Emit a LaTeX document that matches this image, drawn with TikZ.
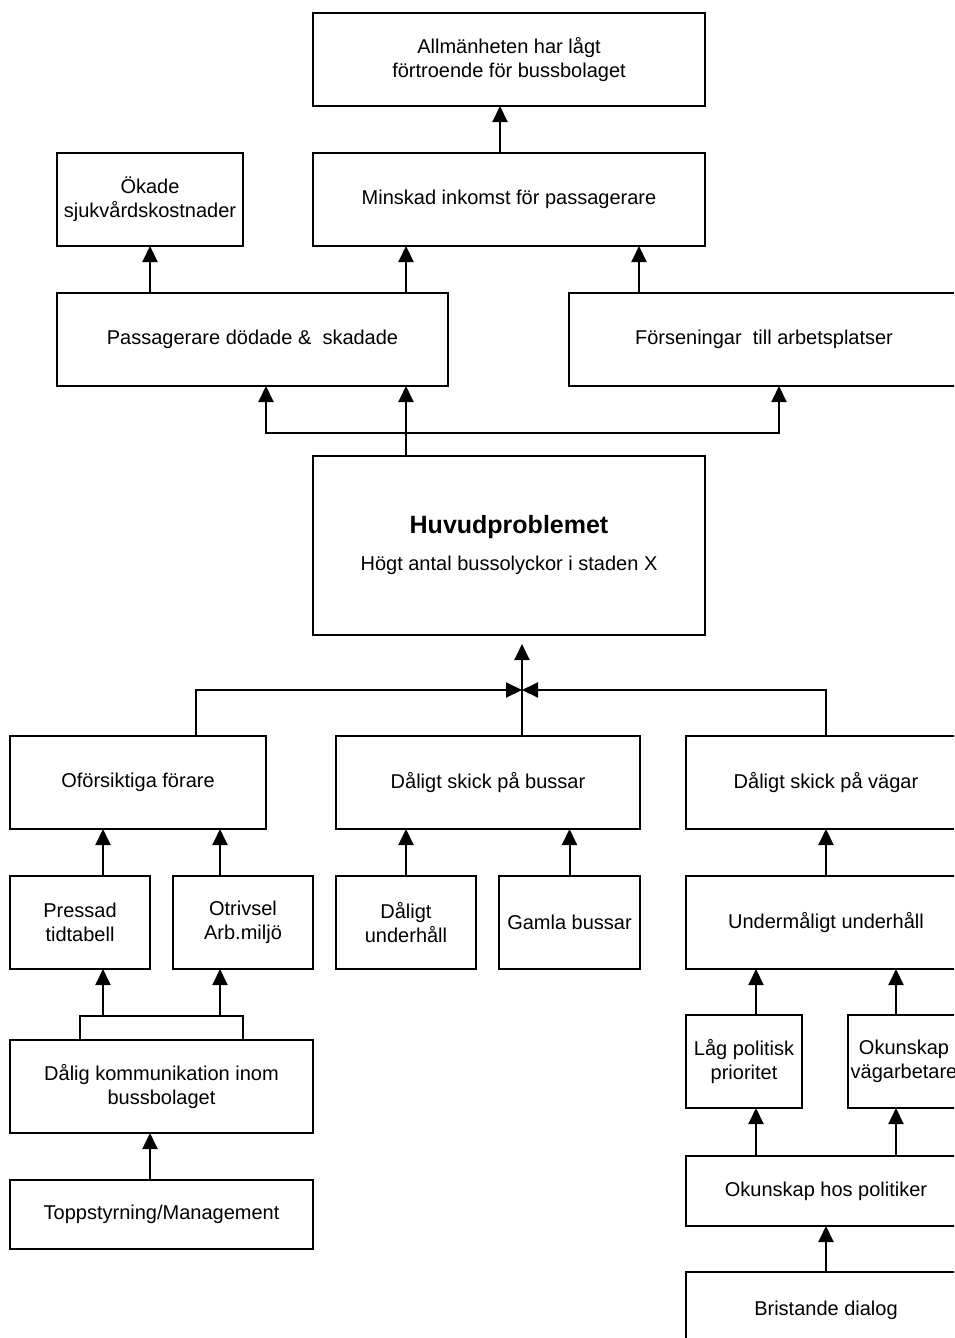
\documentclass[tikz,border=0pt]{standalone}
\usepackage{fontspec}
\setmainfont{Liberation Sans}
\usetikzlibrary{positioning,arrows.meta}

\begin{document}
\begin{tikzpicture}[x=1pt, y=1pt,
  box/.style={draw, line width=2pt, align=center, inner sep=2pt, outer sep=0pt,
    font=\fontsize{20}{24}\selectfont},
  pil/.style={line width=2pt, -{Triangle[length=16pt,width=15pt]}},
  dubbelpil/.style={line width=2pt, {Triangle[length=16pt,width=15pt]}-{Triangle[length=16pt,width=15pt]}},
  ledning/.style={line width=2pt}]
\useasboundingbox (0,0) rectangle (954,-1338);
\clip (0,0) rectangle (954,-1338);

\node[box, anchor=north west, minimum width=392pt, minimum height=93pt] (allm) at (313,-13) {Allmänheten har lågt\\förtroende för bussbolaget};
\node[box, below=47pt of allm, minimum width=392pt, minimum height=93pt] (minsk) {Minskad inkomst för passagerare};
\node[box, anchor=north west, minimum width=186pt, minimum height=93pt] (okade) at (57,-153) {Ökade\\sjukvårdskostnader};
\node[box, anchor=north west, minimum width=391pt, minimum height=93pt] (passag) at (57,-293) {Passagerare dödade \& \ skadade};
\node[box, right=121pt of passag, minimum width=390pt, minimum height=93pt] (forsen) {Förseningar\ \ till arbetsplatser};

\node[box, anchor=north west, minimum width=392pt, minimum height=179pt] (huvud) at (313,-456)
  {{\fontsize{25}{30}\selectfont\bfseries Huvudproblemet}\\[13pt]Högt antal bussolyckor i staden X};

\node[box, anchor=north west, minimum width=256pt, minimum height=93pt] (oforsikt) at (10,-736) {Oförsiktiga förare};
\node[box, right=70pt of oforsikt, minimum width=304pt, minimum height=93pt] (bussar) {Dåligt skick på bussar};
\node[box, right=46pt of bussar, minimum width=280pt, minimum height=93pt] (vagar) {Dåligt skick på vägar};

\node[box, anchor=north west, minimum width=140pt, minimum height=93pt] (pressad) at (10,-876) {Pressad\\tidtabell};
\node[box, right=23pt of pressad, minimum width=140pt, minimum height=93pt] (otriv) {Otrivsel\\Arb.miljö};
\node[box, right=23pt of otriv, minimum width=140pt, minimum height=93pt] (dunder) {Dåligt\\underhåll};
\node[box, right=23pt of dunder, minimum width=141pt, minimum height=93pt] (gamla) {Gamla bussar};
\node[box, right=46pt of gamla, minimum width=280pt, minimum height=93pt] (underm) {Undermåligt underhåll};

\node[box, anchor=north west, minimum width=303pt, minimum height=93pt] (dalkom) at (10,-1040) {Dålig kommunikation inom\\bussbolaget};
\node[box, below=47pt of dalkom, minimum width=303pt, minimum height=69pt] (topp) {Toppstyrning/Management};

\node[box, anchor=north west, minimum width=116pt, minimum height=93pt] (lag) at (686,-1015) {Låg politisk\\prioritet};
\node[box, right=46pt of lag, minimum width=112pt, minimum height=93pt] (okunvag) {Okunskap\\vägarbetare};
\node[box, anchor=north west, minimum width=280pt, minimum height=70pt] (okunpol) at (686,-1156) {Okunskap hos politiker};
\node[box, below=46pt of okunpol, minimum width=280pt, minimum height=76pt] (brist) {Bristande dialog};

\coordinate (ka) at (500,-130);
\coordinate (kc) at (406,-270);
\coordinate (kd) at (639,-270);
\coordinate (hgren) at (406,-433);
\coordinate (gv) at (266,-433);
\coordinate (gh) at (779,-433);
\coordinate (knut) at (522,-690);
\coordinate (vk) at (196,-690);
\coordinate (kl) at (103,-1016);
\coordinate (kr) at (220,-1016);
\coordinate (kv1) at (756,-1133);
\coordinate (kv2) at (896,-1133);
\coordinate (kt) at (150,-1156);

\draw[pil] (minsk.north -| ka) -- (allm.south -| ka);
\draw[pil] (passag.north -| okade) -- (okade.south);
\draw[pil] (passag.north -| kc) -- (minsk.south -| kc);
\draw[pil] (forsen.north -| kd) -- (minsk.south -| kd);

\draw[pil] (huvud.north -| hgren) -- (passag.south -| hgren);
\draw[dubbelpil] (passag.south -| gv) -- (gv) -- (gh) -- (forsen.south -| gh);

\draw[pil, shorten >=9pt] (bussar.north -| knut) -- (huvud.south -| knut);
\draw[pil] (oforsikt.north -| vk) |- (knut);
\draw[pil] (vagar.north) |- (knut);

\draw[pil] (pressad.north -| kl) -- (oforsikt.south -| kl);
\draw[pil] (otriv.north -| kr) -- (oforsikt.south -| kr);
\draw[pil] (dunder.north) -- (bussar.south -| dunder);
\draw[pil] (gamla.north) -- (bussar.south -| gamla);
\draw[pil] (underm.north) -- (vagar.south);

\draw[ledning] (dalkom.north -| pressad) |- (kl) -| (dalkom.north -| otriv);
\draw[pil] (kl) -- (pressad.south -| kl);
\draw[pil] (kr) -- (otriv.south -| kr);
\draw[pil] (topp.north -| kt) -- (dalkom.south -| kt);

\draw[pil] (lag.north -| kv1) -- (underm.south -| kv1);
\draw[pil] (okunvag.north -| kv2) -- (underm.south -| kv2);
\draw[pil] (okunpol.north -| kv1) -- (lag.south -| kv1);
\draw[pil] (okunpol.north -| kv2) -- (okunvag.south -| kv2);
\draw[pil] (brist.north) -- (okunpol.south);
\end{tikzpicture}
\end{document}
